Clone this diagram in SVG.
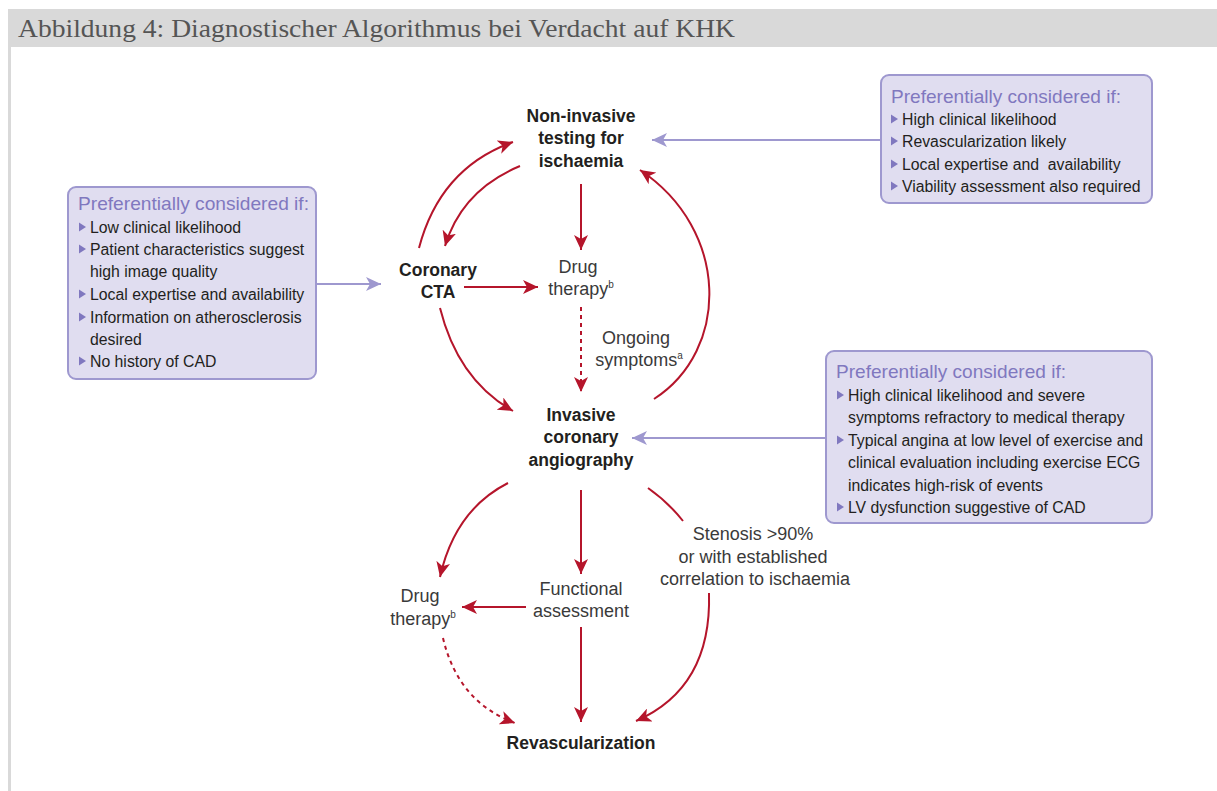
<svg xmlns="http://www.w3.org/2000/svg" width="1217" height="791" viewBox="0 0 1217 791">
<defs>
<style>
.title{font-family:"Liberation Serif","DejaVu Serif",serif;font-size:26px;fill:#555555}
.box{fill:#e0ddf0;stroke:#9e98cf;stroke-width:2}
.hdr{font-family:"Liberation Sans",Arial,sans-serif;font-size:18.5px;fill:#8078bf}
.itm{font-family:"Liberation Sans",Arial,sans-serif;font-size:15.8px;fill:#231f20}
.bul{fill:#8078bf}
.bold{font-family:"Liberation Sans",Arial,sans-serif;font-size:17.5px;font-weight:bold;fill:#231f20;text-anchor:middle}
.lt{font-family:"Liberation Sans",Arial,sans-serif;font-size:18px;fill:#3a3a3a;text-anchor:middle}
.sup{font-size:10px}
.red{fill:none;stroke:#b5152b;stroke-width:2;marker-end:url(#ah)}
.dash{stroke-dasharray:4 4}
.pur{fill:none;stroke:#9e98cf;stroke-width:2;marker-end:url(#ap)}
.pre{white-space:pre}
</style>
<marker id="ah" markerUnits="userSpaceOnUse" markerWidth="16" markerHeight="14" refX="15" refY="7" orient="auto">
<path d="M0,0 L15,7 L0,14 L4,7 Z" fill="#b5152b"/>
</marker>
<marker id="ap" markerUnits="userSpaceOnUse" markerWidth="16" markerHeight="14" refX="15" refY="7" orient="auto">
<path d="M0,0 L15,7 L0,14 L4,7 Z" fill="#9e98cf"/>
</marker>
<path id="tri" d="M0,-4.5 L7,0 L0,4.5 Z"/>
</defs>
<rect x="0" y="0" width="1217" height="791" fill="#ffffff"/>
<rect x="8" y="9" width="1209" height="38" fill="#d9d9d9"/>
<rect x="8" y="47" width="3" height="744" fill="#d9d9d9"/>
<text class="title" x="18" y="37" textLength="717" lengthAdjust="spacingAndGlyphs">Abbildung 4: Diagnostischer Algorithmus bei Verdacht auf KHK</text>

<g id="connectors">
<path class="red" d="M419,248 Q440,168 513,142"/>
<path class="red" d="M520,166 Q462,190 445,246"/>
<path class="red" d="M581,184 L581,250"/>
<path class="red" d="M464,287 L538,287"/>
<path class="red dash" d="M581,307 L581,392"/>
<path class="red" d="M440,308 Q458,380 513,411"/>
<path class="red" d="M654,399 C730,350 730,230 640,170"/>
<path class="red" d="M508,483 Q455,510 440,577"/>
<path class="red" d="M581,490 L581,574"/>
<path fill="none" stroke="#b5152b" stroke-width="2" d="M648,488 Q668,502 683,521"/>
<path class="red" d="M526,607 L462,607"/>
<path class="red" d="M581,627 L581,722"/>
<path class="red" d="M709,593 C711,660 684,700 636,721"/>
<path class="red dash" d="M443,638 Q458,702 515,723"/>
<path class="pur" d="M316,284 L381,284"/>
<path class="pur" d="M881,140 L652,140"/>
<path class="pur" d="M826,438 L632,438"/>
</g>

<g id="box-cta">
<rect class="box" x="68" y="187" width="248" height="192" rx="8"/>
<text class="hdr" x="78" y="210" textLength="231" lengthAdjust="spacingAndGlyphs">Preferentially considered if:</text>
<use href="#tri" class="bul" x="79" y="227"/>
<text class="itm" x="90" y="233">Low clinical likelihood</text>
<use href="#tri" class="bul" x="79" y="249"/>
<text class="itm" x="90" y="255">Patient characteristics suggest</text>
<text class="itm" x="90" y="277">high image quality</text>
<use href="#tri" class="bul" x="79" y="294"/>
<text class="itm" x="90" y="300">Local expertise and availability</text>
<use href="#tri" class="bul" x="79" y="317"/>
<text class="itm" x="90" y="323">Information on atherosclerosis</text>
<text class="itm" x="90" y="345">desired</text>
<use href="#tri" class="bul" x="79" y="361"/>
<text class="itm" x="90" y="367">No history of CAD</text>
</g>

<g id="box-nit">
<rect class="box" x="881" y="75" width="271" height="128" rx="8"/>
<text class="hdr" x="891" y="103" textLength="230" lengthAdjust="spacingAndGlyphs">Preferentially considered if:</text>
<use href="#tri" class="bul" x="891" y="119"/>
<text class="itm" x="902" y="125">High clinical likelihood</text>
<use href="#tri" class="bul" x="891" y="141"/>
<text class="itm" x="902" y="147">Revascularization likely</text>
<use href="#tri" class="bul" x="891" y="164"/>
<text class="itm pre" x="902" y="170">Local expertise and  availability</text>
<use href="#tri" class="bul" x="891" y="186"/>
<text class="itm" x="902" y="192">Viability assessment also required</text>
</g>

<g id="box-ica">
<rect class="box" x="826" y="351" width="326" height="172" rx="8"/>
<text class="hdr" x="836" y="378" textLength="230" lengthAdjust="spacingAndGlyphs">Preferentially considered if:</text>
<use href="#tri" class="bul" x="837" y="395"/>
<text class="itm" x="848" y="401">High clinical likelihood and severe</text>
<text class="itm" x="848" y="423">symptoms refractory to medical therapy</text>
<use href="#tri" class="bul" x="837" y="440"/>
<text class="itm" x="848" y="446">Typical angina at low level of exercise and</text>
<text class="itm" x="848" y="468">clinical evaluation including exercise ECG</text>
<text class="itm" x="848" y="491">indicates high-risk of events</text>
<use href="#tri" class="bul" x="837" y="507"/>
<text class="itm" x="848" y="513">LV dysfunction suggestive of CAD</text>
</g>

<g id="node-nit">
<text class="bold" x="581" y="122">Non-invasive</text>
<text class="bold" x="581" y="144">testing for</text>
<text class="bold" x="581" y="167">ischaemia</text>
</g>
<g id="node-cta">
<text class="bold" x="438" y="276">Coronary</text>
<text class="bold" x="438" y="298">CTA</text>
</g>
<g id="node-drug1">
<text class="lt" x="578" y="273">Drug</text>
<text class="lt" x="581" y="295">therapy<tspan class="sup" dy="-7">b</tspan></text>
</g>
<g id="label-ongoing">
<text class="lt" x="636" y="344">Ongoing</text>
<text class="lt" x="639" y="366">symptoms<tspan class="sup" dy="-7">a</tspan></text>
</g>
<g id="node-ica">
<text class="bold" x="581" y="421">Invasive</text>
<text class="bold" x="581" y="443">coronary</text>
<text class="bold" x="581" y="466">angiography</text>
</g>
<g id="node-drug2">
<text class="lt" x="420" y="602">Drug</text>
<text class="lt" x="423" y="625">therapy<tspan class="sup" dy="-7">b</tspan></text>
</g>
<g id="node-func">
<text class="lt" x="581" y="595">Functional</text>
<text class="lt" x="581" y="617">assessment</text>
</g>
<g id="label-stenosis">
<text class="lt" x="753" y="540">Stenosis &gt;90%</text>
<text class="lt" x="753" y="563">or with established</text>
<text class="lt" x="755" y="585">correlation to ischaemia</text>
</g>
<g id="node-revasc">
<text class="bold" x="581" y="749">Revascularization</text>
</g>
</svg>
